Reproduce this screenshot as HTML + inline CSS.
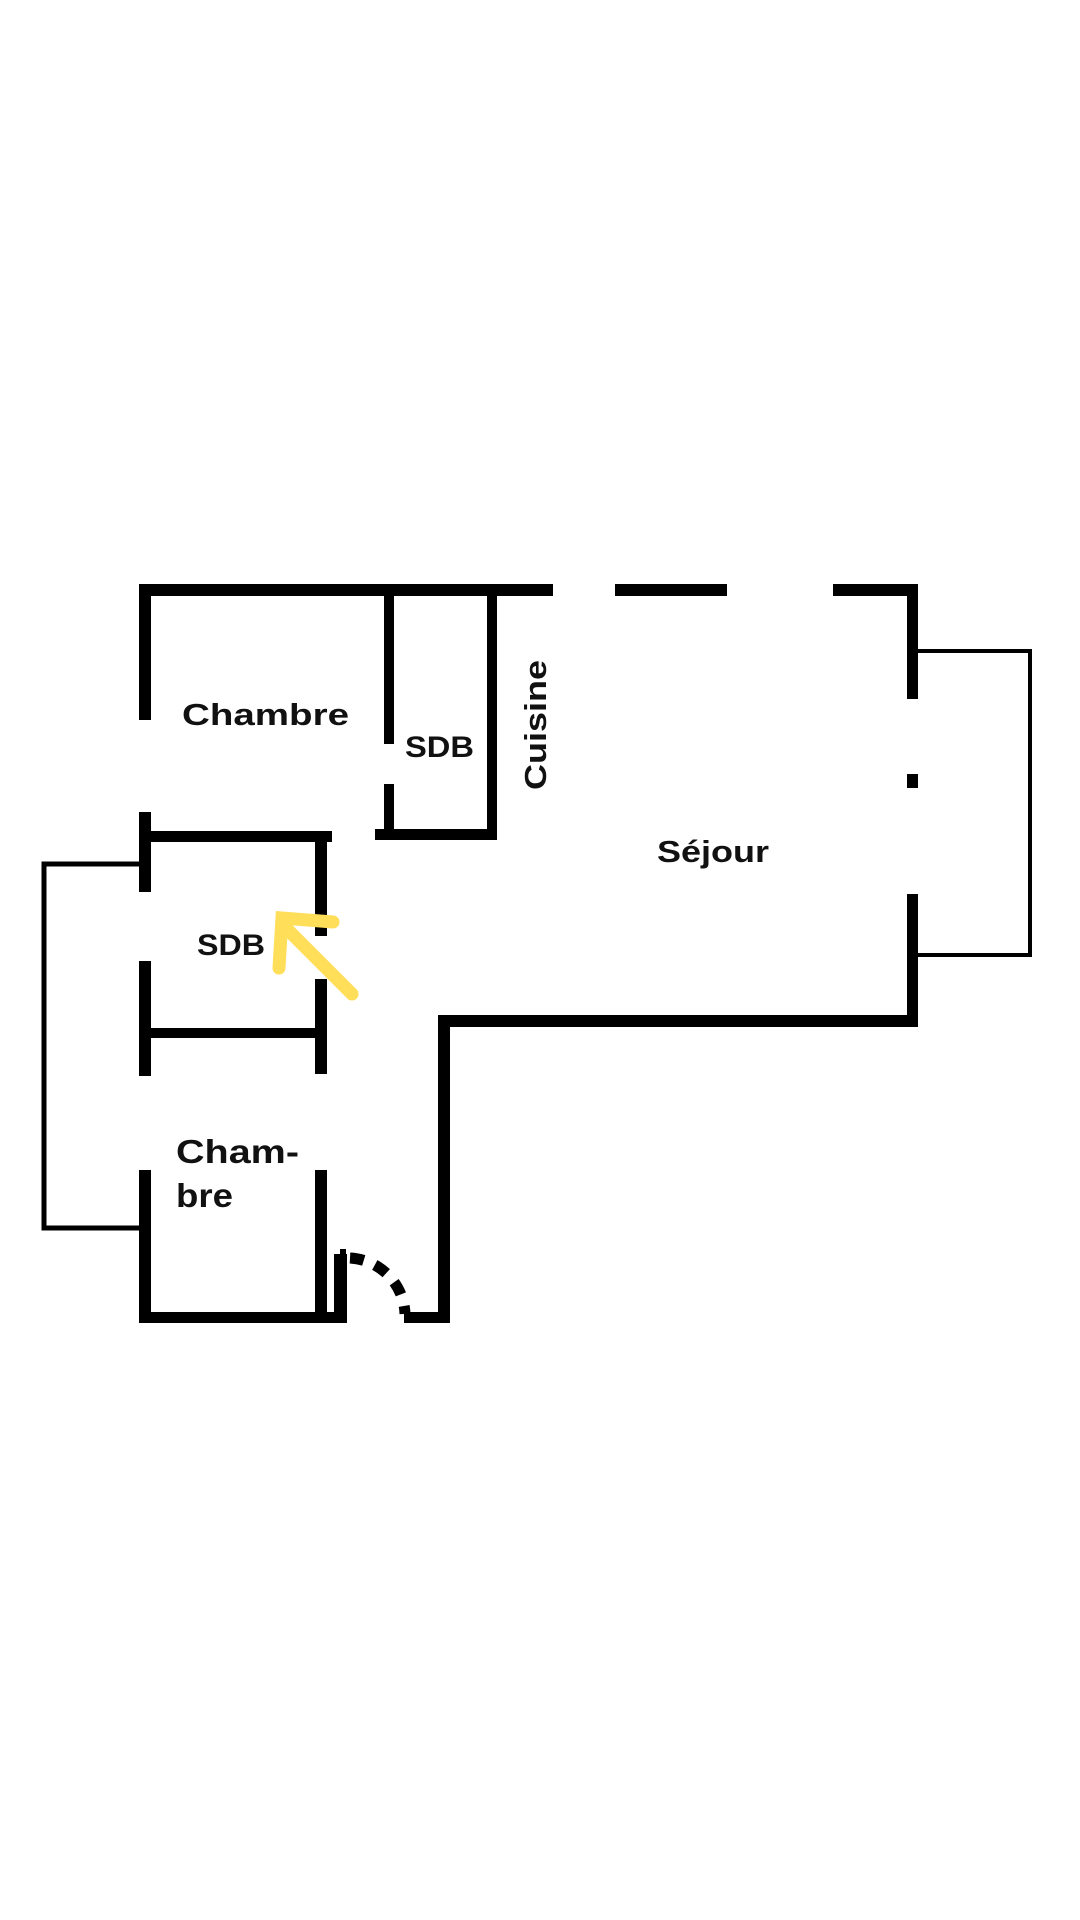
<!DOCTYPE html>
<html><head><meta charset="utf-8"><style>
html,body{margin:0;padding:0;background:#fff;width:1080px;height:1920px;overflow:hidden}
svg{display:block}
text{font-family:"Liberation Sans","DejaVu Sans",sans-serif;font-weight:bold;fill:#111}
</style></head><body>
<svg width="1080" height="1920" viewBox="0 0 1080 1920" xmlns="http://www.w3.org/2000/svg">
<g fill="#000">
<rect x="139" y="584" width="414" height="12"/>
<rect x="615" y="584" width="112" height="12"/>
<rect x="833" y="584" width="85" height="12"/>
<rect x="907" y="584" width="11" height="115"/>
<rect x="907" y="774" width="11" height="14"/>
<rect x="907" y="894" width="11" height="131"/>
<rect x="438" y="1015" width="480" height="12"/>
<rect x="438" y="1015" width="12" height="308"/>
<rect x="404" y="1312" width="46" height="11"/>
<rect x="139" y="584" width="12" height="136"/>
<rect x="384" y="584" width="10" height="160"/>
<rect x="384" y="784" width="10" height="55"/>
<rect x="375" y="829" width="122" height="11"/>
<rect x="487" y="584" width="10" height="256"/>
<rect x="139" y="812" width="12" height="80"/>
<rect x="139" y="961" width="12" height="115"/>
<rect x="139" y="1170" width="12" height="153"/>
<rect x="151" y="831" width="181" height="11"/>
<rect x="315" y="831" width="12" height="105"/>
<rect x="315" y="979" width="12" height="95"/>
<rect x="151" y="1028" width="170" height="10"/>
<rect x="315" y="1170" width="12" height="153"/>
<rect x="139" y="1312" width="208" height="11"/>
<rect x="334" y="1254" width="13" height="69"/>
<rect x="340" y="1249" width="6" height="8"/>
</g>
<polyline points="918,651 1030,651 1030,955 918,955" fill="none" stroke="#000" stroke-width="4"/>
<polyline points="139,864 44,864 44,1228 139,1228" fill="none" stroke="#000" stroke-width="5"/>
<path d="M350,1258 A58,58 0 0 1 405,1314" fill="none" stroke="#000" stroke-width="11" stroke-dasharray="14,12"/>
<g stroke="#FFDE59" stroke-width="13" stroke-linecap="round" fill="none">
<line x1="352" y1="994" x2="284" y2="926"/>
<polyline points="333,922 282,918 279,968"/>
</g>
<text x="182" y="725" font-size="31" textLength="167" lengthAdjust="spacingAndGlyphs">Chambre</text>
<text x="405" y="757" font-size="30" textLength="69" lengthAdjust="spacingAndGlyphs">SDB</text>
<text x="197" y="955" font-size="30" textLength="68" lengthAdjust="spacingAndGlyphs">SDB</text>
<text x="657" y="862" font-size="31" textLength="112" lengthAdjust="spacingAndGlyphs">Séjour</text>
<text x="176" y="1163" font-size="33" textLength="123" lengthAdjust="spacingAndGlyphs">Cham-</text>
<text x="176" y="1207" font-size="33" textLength="57" lengthAdjust="spacingAndGlyphs">bre</text>
<text transform="translate(546,790) rotate(-90)" font-size="31" textLength="130" lengthAdjust="spacingAndGlyphs">Cuisine</text>
</svg>
</body></html>
